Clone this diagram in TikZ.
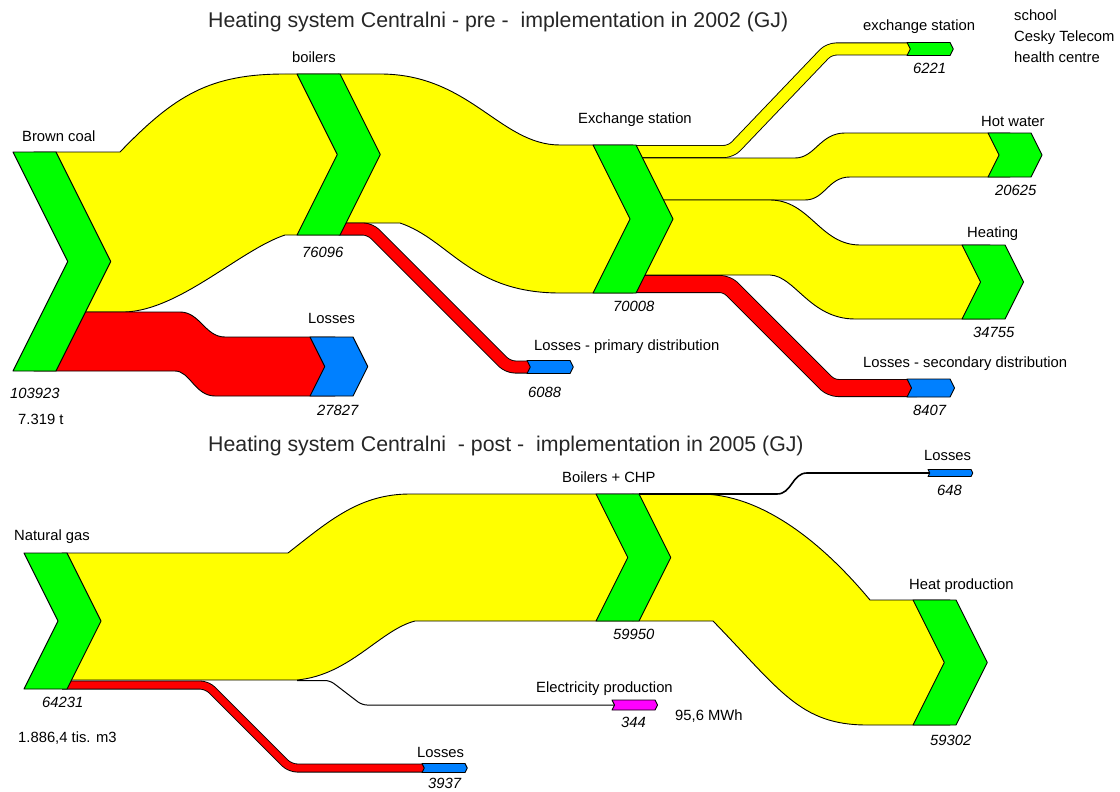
\documentclass[tikz,border=0pt]{standalone}
\usepackage{fontspec}
\setmainfont{Liberation Sans}
\definecolor{flowyellow}{RGB}{255,255,0}
\definecolor{flowgreen}{RGB}{0,255,0}
\definecolor{flowred}{RGB}{255,0,0}
\definecolor{lossblue}{RGB}{0,128,255}
\definecolor{elmagenta}{RGB}{255,0,255}
\tikzset{
  flow/.style={draw=black, line width=0.9pt},
  lbl/.style={inner sep=0pt, anchor=base west, font=\fontsize{14.8}{17}\selectfont},
  val/.style={inner sep=0pt, anchor=base west, font=\fontsize{14.8}{17}\selectfont\itshape},
  ttl/.style={inner sep=0pt, anchor=base west, text=black!85, font=\fontsize{21.3}{25}\selectfont},
}
% arrow-shaped end of a flow: x, top, bottom, colour
\newcommand{\flowhead}[4]{%
  \pgfmathsetmacro{\fhd}{(#3-#2)/4}
  \pgfmathsetmacro{\fhm}{(#2+#3)/2}
  \draw[flow, fill=#4] (#1,#2) -- ({#1+43},#2) -- ({#1+43+\fhd},\fhm) -- ({#1+43},#3) -- (#1,#3) -- ({#1+\fhd},\fhm) -- cycle;
}
% narrow flow drawn as a thick line: outer width, inner width, colour, path
\newcommand{\band}[4]{%
  \draw[line width=#1pt, rounded corners=7pt] #4;
  \draw[line width=#2pt, #3, rounded corners=7pt] #4;
}
\begin{document}
\begin{tikzpicture}[x=1pt, y=-1pt, line join=round]
\useasboundingbox (0,0) rectangle (1120,792);

% pre - 2002
\draw[flow, fill=flowyellow] (34,152) -- (120,152) .. controls (175,95) and (210,74) .. (285,74) -- (338.5,74) -- (338.5,235) -- (285,235) .. controls (240,250) and (180,310) .. (125,312) -- (63.6,312) -- (89,261.5) -- cycle;
\draw[flow, fill=flowred] (63.6,312) -- (180,312) .. controls (200,312) and (205,337) .. (225,337) -- (335,337) -- (335,396) -- (215,396) .. controls (195,396) and (190,371) .. (175,371) -- (34,371) -- cycle;
\draw[flow, fill=flowyellow] (338.5,74) -- (380,74) .. controls (470,74) and (500,145) .. (560,145) -- (633,145) -- (633,293) -- (560,293) .. controls (470,293) and (450,240) .. (400,223) -- (338.5,223) -- cycle;
\band{13}{11.2}{flowred}{(338.5,229) -- (370,229) -- (508,367) -- (537,367)}
\band{13}{11.2}{flowyellow}{(633,151.5) -- (731,151.5) -- (829,49) -- (917,49)}
\draw[flow, fill=flowyellow] (633,158) -- (795,158) .. controls (815,158) and (820,133) .. (845,133) -- (1010,133) -- (1010,177) -- (850,177) .. controls (828,177) and (825,200) .. (805,200) -- (633,200) -- cycle;
\draw[flow, fill=flowyellow] (633,200) -- (770,200) .. controls (810,200) and (820,245) .. (860,245) -- (990,245) -- (990,319) -- (855,319) .. controls (810,319) and (795,276) .. (770,275) -- (633,275) -- cycle;
\band{18}{16.2}{flowred}{(633,284) -- (727,284) -- (831,388) -- (917,388)}

\flowhead{13}{152}{371}{flowgreen}
\flowhead{297}{74}{235}{flowgreen}
\flowhead{310}{337}{396}{lossblue}
\flowhead{593}{145}{293}{flowgreen}
\flowhead{527}{360.5}{373.5}{lossblue}
\flowhead{907}{42.5}{55.5}{flowgreen}
\flowhead{988}{133}{177}{flowgreen}
\flowhead{962}{245}{319}{flowgreen}
\flowhead{907}{379}{397}{lossblue}

% post - 2005
\draw[flow, fill=flowyellow] (62,553) -- (288,553) .. controls (330,520) and (360,494) .. (410,494) -- (633,494) -- (633,621) -- (415,621) .. controls (380,630) and (350,675) .. (297,680) -- (62,680) -- cycle;
\band{9}{7.2}{flowred}{(62,685) -- (207,685) -- (290,768) -- (432,768)}
\draw[line width=1pt, rounded corners=5pt] (297,680.5) -- (330,680.5) -- (362,705) -- (620,705);
\draw[flow, fill=flowyellow] (633,494) -- (700,494) .. controls (760,494) and (820,540) .. (870,600) -- (950,600) -- (950,725) -- (867,725) .. controls (800,725) and (780,690) .. (713,621) -- (633,621) -- cycle;
\draw[line width=1.6pt] (639,494) -- (777,494) .. controls (792,494) and (792,473) .. (807,473) -- (935,473);

\flowhead{24}{553}{689}{flowgreen}
\flowhead{596}{494}{621}{flowgreen}
\flowhead{913}{600}{725}{flowgreen}
\flowhead{422}{763.5}{772.5}{lossblue}
\flowhead{612}{700}{710}{elmagenta}
\flowhead{928}{469.5}{476.5}{lossblue}

% labels
\node[ttl] (tpre) at (208,28) {Heating system Centralni - pre -\ \ implementation in 2002 (GJ)};
\node[lbl] (brown) at (22,142) {Brown coal};
\node[val] (vbrown) at (10,398) {103923};
\node[lbl] (tons) at (18,424) {7.319 t};
\node[lbl] (boil) at (292,63) {boilers};
\node[val] (vboil) at (302,257) {76096};
\node[lbl] (loss1) at (308,323) {Losses};
\node[val] (vloss1) at (317,415) {27827};
\node[lbl] (exch) at (578,124) {Exchange station};
\node[val] (vexch) at (613,311) {70008};
\node[lbl] (prim) at (534,350) {Losses - primary distribution};
\node[val] (vprim) at (528,397) {6088};
\node[lbl] (exst) at (863,31) {exchange station};
\node[val] (vexst) at (913,74) {6221};
\node[lbl] (school) at (1014,21) {school};
\node[lbl] (telecom) at (1014,42) {Cesky Telecom};
\node[lbl] (health) at (1014,63) {health centre};
\node[lbl] (hotw) at (981,126) {Hot water};
\node[val] (vhotw) at (995,195) {20625};
\node[lbl] (heat) at (967,237) {Heating};
\node[val] (vheat) at (973,337) {34755};
\node[lbl] (sec) at (863,367) {Losses - secondary distribution};
\node[val] (vsec) at (913,415) {8407};

\node[ttl] (tpost) at (208,451) {Heating system Centralni\ \ - post -\ \ implementation in 2005 (GJ)};
\node[lbl] (gas) at (14,540) {Natural gas};
\node[val] (vgas) at (42,707) {64231};
\node[lbl] (m3) at (18,742) {1.886,4 tis. m3};
\node[lbl] (loss2) at (417,757) {Losses};
\node[val] (vloss2) at (428,788) {3937};
\node[lbl] (elec) at (536,692) {Electricity production};
\node[val] (velec) at (621,727) {344};
\node[lbl] (mwh) at (675,720) {95,6 MWh};
\node[lbl] (chp) at (562,482) {Boilers + CHP};
\node[val] (vchp) at (613,639) {59950};
\node[lbl] (loss3) at (924,460) {Losses};
\node[val] (vloss3) at (937,495) {648};
\node[lbl] (hprod) at (909,589) {Heat production};
\node[val] (vhprod) at (930,745) {59302};
\end{tikzpicture}
\end{document}
